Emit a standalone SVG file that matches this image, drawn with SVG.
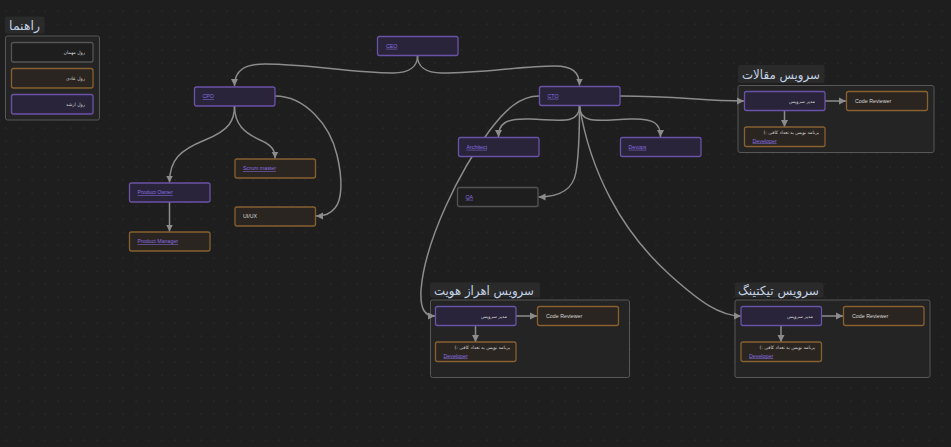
<svg xmlns="http://www.w3.org/2000/svg" width="951" height="447" viewBox="0 0 951 447">
<defs>
<pattern id="dots" x="0" y="0" width="13" height="13" patternUnits="userSpaceOnUse">
<rect x="5.5" y="10.5" width="1.2" height="1.2" fill="#303030"/>
</pattern>
<marker id="arr" markerUnits="userSpaceOnUse" markerWidth="8" markerHeight="8" refX="7" refY="4" orient="auto">
<path d="M0,0.5 L7,4 L0,7.5 z" fill="#8c8c8c"/>
</marker>
<style>
.bg{fill:#1e1e1e}
.pur{fill:#29243a;stroke:#6a52a6;stroke-width:1.3}
.org{fill:#2a2520;stroke:#87602f;stroke-width:1.3}
.gry{fill:#1e1e1e;stroke:#545454;stroke-width:1.3}
.grp{fill:#242424;stroke:#575757;stroke-width:1}
.ttlbg{fill:#2a2a2a}
.ttl{font-family:"DejaVu Sans",sans-serif;font-size:12.5px;fill:#c3d1e6}
.lnk{font-family:"Liberation Sans",Arial,sans-serif;font-size:5.3px;fill:#8a6ee0;text-decoration:underline}
.txt{font-family:"Liberation Sans",Arial,sans-serif;font-size:5.3px;fill:#d6d6d6}
.fa{font-family:"DejaVu Sans",sans-serif;font-size:4.6px;fill:#d6d6d6}
.edge{fill:none;stroke:#8c8c8c;stroke-width:1.5;marker-end:url(#arr)}
</style>
</defs>
<rect class="bg" width="951" height="447"/>
<rect fill="url(#dots)" width="951" height="447"/>

<g id="legend">
<rect class="ttlbg" x="5" y="16.5" width="39.5" height="17" rx="2"/>
<text class="ttl" x="40" y="30" direction="rtl" text-anchor="start">راهنما</text>
<rect class="grp" x="5.5" y="36" width="94" height="84" rx="2"/>
<rect class="gry" x="11.5" y="42.5" width="81.5" height="19.5" rx="2"/>
<text class="fa" x="85" y="54" direction="rtl" text-anchor="start">رول مهمان</text>
<rect class="org" x="11.5" y="68.5" width="81.5" height="19.5" rx="2"/>
<text class="fa" x="85" y="80" direction="rtl" text-anchor="start">رول عادی</text>
<rect class="pur" x="11.5" y="94.5" width="81.5" height="19.5" rx="2"/>
<text class="fa" x="85" y="106" direction="rtl" text-anchor="start">رول ارشد</text>
</g>

<g id="svc-articles">
<rect class="ttlbg" x="738" y="65" width="86.5" height="18" rx="2"/>
<text class="ttl" x="820" y="79" direction="rtl" text-anchor="start" textLength="78" lengthAdjust="spacingAndGlyphs">سرویس مقالات</text>
<rect class="grp" x="738" y="85.5" width="196" height="67" rx="2"/>
</g>
<g id="svc-auth">
<rect class="ttlbg" x="430" y="282.5" width="110" height="15" rx="2"/>
<text class="ttl" x="534" y="294.5" direction="rtl" text-anchor="start" textLength="100" lengthAdjust="spacingAndGlyphs">سرویس اهراز هویت</text>
<rect class="grp" x="430.5" y="300" width="199" height="77.5" rx="2"/>
</g>
<g id="svc-ticketing">
<rect class="ttlbg" x="735" y="282.5" width="88.5" height="15" rx="2"/>
<text class="ttl" x="819" y="294.5" direction="rtl" text-anchor="start" textLength="81" lengthAdjust="spacingAndGlyphs">سرویس تیکتینگ</text>
<rect class="grp" x="735" y="300" width="195" height="77.5" rx="2"/>
</g>

<g id="connectors">
<path class="edge" d="M417.5,56 C417.5,66 410,73 393,73 C350,73 310,64 265,64 C245,64 234.5,70 234.5,86"/>
<path class="edge" d="M417.5,56 C417.5,66 425,73 442,73 C485,73 520,66 555,66 C572,66 579.5,72 579.5,85.5"/>
<path class="edge" d="M234.5,106 C234.5,120 230,130 205,140 C180,150 169.5,160 169.5,182.5"/>
<path class="edge" d="M234.5,106 C234.5,125 245,133 260,140 C272,145 275,150 275,158.5"/>
<path class="edge" d="M275,96 C305,96 330,125 337,155 C343,180 342,200 335,208 C330,214 325,216 316,216"/>
<path class="edge" d="M169.5,202 L169.5,231.5"/>
<path class="edge" d="M579.5,106 C579.5,125 560,120 530,119 C505,118 498.5,124 498.5,137"/>
<path class="edge" d="M579.5,106 C579.5,125 600,120 630,119 C655,118 660.5,124 660.5,137"/>
<path class="edge" d="M579.5,106 C579.5,135 578,160 576,172 C573,190 560,197 538.5,197"/>
<path class="edge" d="M539,96 C520,96 505,110 490,130 C460,170 425,240 421,290 C420,310 425,316 435,316"/>
<path class="edge" d="M579.5,106 C590,170 620,230 670,275 C700,302 720,316 741,316"/>
<path class="edge" d="M620,96 C680,96 700,101 744,101"/>
<path class="edge" d="M825,101 L846,101"/>
<path class="edge" d="M784.5,111 L784.5,127"/>
<path class="edge" d="M516,316 L537,316"/>
<path class="edge" d="M475.5,325.5 L475.5,342"/>
<path class="edge" d="M821.5,316 L843,316"/>
<path class="edge" d="M781,325.5 L781,342"/>
</g>

<g id="ceo"><rect class="pur" x="377.5" y="36.5" width="80.5" height="19" rx="2"/><text class="lnk" x="386" y="47.8">CEO</text></g>
<g id="cpo"><rect class="pur" x="194.5" y="87" width="80.5" height="19" rx="2"/><text class="lnk" x="202.5" y="98.3">CPO</text></g>
<g id="cto"><rect class="pur" x="539.5" y="86.5" width="80.5" height="19" rx="2"/><text class="lnk" x="547.5" y="97.8">CTO</text></g>
<g id="product-owner"><rect class="pur" x="129.5" y="183" width="80.5" height="19" rx="2"/><text class="lnk" x="137.5" y="194.3">Product Owner</text></g>
<g id="product-manager"><rect class="org" x="129.5" y="232" width="80.5" height="19" rx="2"/><text class="lnk" x="137.5" y="243.3">Product Manager</text></g>
<g id="scrum-master"><rect class="org" x="235" y="159" width="80.5" height="19" rx="2"/><text class="lnk" x="243" y="170.3">Scrum master</text></g>
<g id="uiux"><rect class="org" x="235" y="207" width="80.5" height="19" rx="2"/><text class="txt" x="243" y="218.3">UI/UX</text></g>
<g id="architect"><rect class="pur" x="458.5" y="137.5" width="80.5" height="19" rx="2"/><text class="lnk" x="466.5" y="148.8">Architect</text></g>
<g id="devops"><rect class="pur" x="620.5" y="137.5" width="80.5" height="19" rx="2"/><text class="lnk" x="628.5" y="148.8">Devops</text></g>
<g id="qa"><rect class="gry" x="457.5" y="187.5" width="80.5" height="19" rx="2"/><text class="lnk" x="465.5" y="198.8">QA</text></g>

<g id="articles-manager"><rect class="pur" x="744.5" y="91.5" width="80.5" height="19" rx="2"/><text class="fa" x="815" y="103" direction="rtl" text-anchor="start">مدیر سرویس</text></g>
<g id="articles-reviewer"><rect class="org" x="846.5" y="91.5" width="81" height="19" rx="2"/><text class="txt" x="855" y="102.8">Code Reviewer</text></g>
<g id="articles-developer"><rect class="org" x="744.5" y="127" width="80.5" height="19.5" rx="2"/><text class="fa" x="819" y="133.5" direction="rtl" text-anchor="start">برنامه نویس به تعداد کافی :)</text><text class="lnk" x="752.5" y="142.5">Developer</text></g>

<g id="auth-manager"><rect class="pur" x="435.5" y="306.5" width="80.5" height="19" rx="2"/><text class="fa" x="507" y="318" direction="rtl" text-anchor="start">مدیر سرویس</text></g>
<g id="auth-reviewer"><rect class="org" x="537.5" y="306.5" width="81" height="19" rx="2"/><text class="txt" x="546" y="317.8">Code Reviewer</text></g>
<g id="auth-developer"><rect class="org" x="435.5" y="342" width="80.5" height="19.5" rx="2"/><text class="fa" x="510" y="349" direction="rtl" text-anchor="start">برنامه نویس به تعداد کافی :)</text><text class="lnk" x="443.5" y="357.5">Developer</text></g>

<g id="ticketing-manager"><rect class="pur" x="741" y="306.5" width="80.5" height="19" rx="2"/><text class="fa" x="813" y="318" direction="rtl" text-anchor="start">مدیر سرویس</text></g>
<g id="ticketing-reviewer"><rect class="org" x="843.5" y="306.5" width="80.5" height="19" rx="2"/><text class="txt" x="852" y="317.8">Code Reviewer</text></g>
<g id="ticketing-developer"><rect class="org" x="741" y="342" width="80.5" height="19.5" rx="2"/><text class="fa" x="815" y="349" direction="rtl" text-anchor="start">برنامه نویس به تعداد کافی :)</text><text class="lnk" x="749" y="357.5">Developer</text></g>
</svg>
